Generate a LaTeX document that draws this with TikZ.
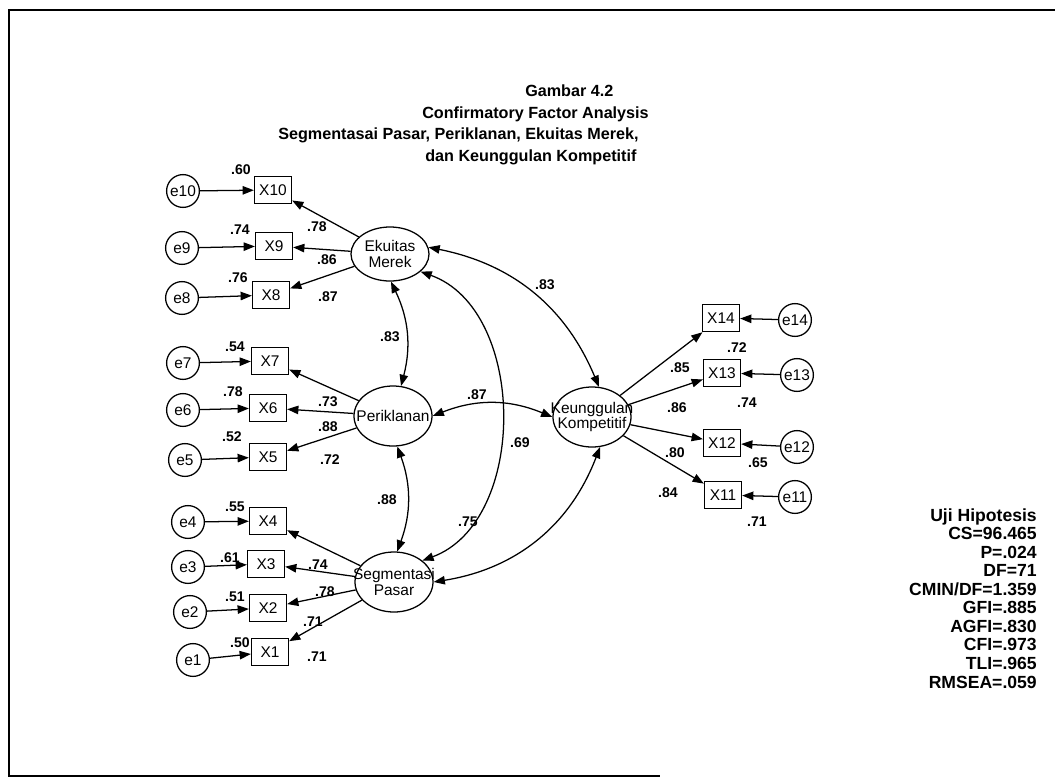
\documentclass[tikz,border=0pt]{standalone}
\usepackage{fontspec}
\setmainfont{Liberation Sans}
\usepackage{xcolor}
\usepackage{tikz}
\usetikzlibrary{shapes.geometric, arrows.meta, positioning}
\newcommand{\zw}[1]{\makebox[0pt]{#1}}
\tikzset{
    myarrow/.style={-{Triangle[length=8pt,width=6pt]}, line width=0.9pt},
    covarrow/.style={{Triangle[length=8pt,width=6pt]}-{Triangle[length=8pt,width=6pt]}, line width=0.9pt},
    box/.style={draw, rectangle, line width=0.9pt, font=\fontsize{11}{12}\selectfont, inner sep=1pt, minimum width=0.925cm, minimum height=0.68cm, align=center},
    err/.style={draw, circle, line width=0.9pt, font=\fontsize{11}{12}\selectfont, inner sep=0pt, minimum size=0.82cm},
    latent/.style={draw, ellipse, line width=0.9pt, font=\fontsize{11}{11}\selectfont, inner sep=0pt, minimum width=1.95cm, minimum height=1.5cm, align=center},
    val/.style={font=\bfseries\fontsize{10}{11}\selectfont, inner sep=0pt},
    ttl/.style={font=\bfseries\fontsize{11.5}{13}\selectfont, inner sep=0pt, anchor=west, text height=8.5pt, text depth=2.5pt}
}

\begin{document}
\begin{tikzpicture}[x=0.025cm, y=0.025cm]
    \useasboundingbox (0,0) rectangle (1055,-778);
    \draw [line width=1.2pt] (1055,-10) -- (9,-10) -- (9,-776) -- (660,-776);

    % title
    \node (t1) [ttl] at (525,-92) {Gambar 4.2};
    \node (t2) [ttl] at (422,-114) {Confirmatory Factor Analysis};
    \node (t3) [ttl] at (278,-135) {Segmentasai Pasar, Periklanan, Ekuitas Merek,};
    \node (t4) [ttl] at (425,-157) {dan Keunggulan Kompetitif};

    % latent variables
    \node (ek) [latent, minimum height=1.35cm] at (390,-254) {\zw{Ekuitas}\\\zw{Merek}};
    \node (per) [latent] at (393,-416) {\zw{Periklanan}};
    \node (seg) [latent] at (394,-582) {\zw{Segmentasi}\\\zw{Pasar}};
    \node (keu) [latent] at (592,-417) {\zw{Keunggulan}\\\zw{Kompetitif}};

    % indicators, left
    \node (x10) [box] at (273,-190) {X10};
    \node (x9) [box] at (274,-246) {X9};
    \node (x8) [box] at (271,-295) {X8};
    \node (x7) [box] at (270,-361) {X7};
    \node (x6) [box] at (268,-408) {X6};
    \node (x5) [box] at (268,-457) {X5};
    \node (x4) [box] at (268,-521) {X4};
    \node (x3) [box] at (266,-564) {X3};
    \node (x2) [box] at (268,-608) {X2};
    \node (x1) [box] at (270,-652) {X1};

    % indicators, right
    \node (x14) [box] at (721,-318) {X14};
    \node (x13) [box] at (722,-373) {X13};
    \node (x12) [box] at (722,-443) {X12};
    \node (x11) [box] at (723,-495) {X11};

    % errors
    \node (e10) [err] at (183,-191) {e10};
    \node (e9) [err] at (182,-248) {e9};
    \node (e8) [err] at (182,-298) {e8};
    \node (e7) [err] at (183,-363) {e7};
    \node (e6) [err] at (183,-410) {e6};
    \node (e5) [err] at (185,-460) {e5};
    \node (e4) [err] at (188,-522) {e4};
    \node (e3) [err] at (188,-567) {e3};
    \node (e2) [err] at (190,-612) {e2};
    \node (e1) [err] at (193,-660) {e1};
    \node (e14) [err] at (795,-320) {e14};
    \node (e13) [err] at (797,-375) {e13};
    \node (e12) [err] at (797,-447) {e12};
    \node (e11) [err] at (795,-497) {e11};

    % paths
    \draw [myarrow] (e10) -- (x10);
    \draw [myarrow] (e9) -- (x9);
    \draw [myarrow] (e8) -- (x8);
    \draw [myarrow] (e7) -- (x7);
    \draw [myarrow] (e6) -- (x6);
    \draw [myarrow] (e5) -- (x5);
    \draw [myarrow] (e4) -- (x4);
    \draw [myarrow] (e3) -- (x3);
    \draw [myarrow] (e2) -- (x2);
    \draw [myarrow] (e1) -- (x1);
    \draw [myarrow] (e14) -- (x14);
    \draw [myarrow] (e13) -- (x13);
    \draw [myarrow] (e12) -- (x12);
    \draw [myarrow] (e11) -- (x11);
    \draw [myarrow] (ek) -- (x10);
    \draw [myarrow] (ek) -- (x9);
    \draw [myarrow] (ek) -- (x8);
    \draw [myarrow] (per) -- (x7);
    \draw [myarrow] (per) -- (x6);
    \draw [myarrow] (per) -- (x5);
    \draw [myarrow] (seg) -- (x4);
    \draw [myarrow] (seg) -- (x3);
    \draw [myarrow] (seg) -- (x2);
    \draw [myarrow] (seg) -- (x1);
    \draw [myarrow] (keu) -- (x14);
    \draw [myarrow] (keu) -- (x13);
    \draw [myarrow] (keu) -- (x12);
    \draw [myarrow] (keu) -- (x11);

    % covariances
    \draw [covarrow] (ek.-88) to[bend left=20] (per.75);
    \draw [covarrow] (per.-82) to[bend left=20] (seg.84);
    \draw [covarrow] (ek.-30) to[bend left=70] (seg.37);
    \draw [covarrow] (ek.10) to[bend left=28] (keu.77);
    \draw [covarrow] (per.east) to[bend left=22] (keu.west);
    \draw [covarrow] (seg.0) to[bend right=30] (keu.-75);

    % squared multiple correlations
    \node (r10) [val] at (241,-170) {.60};
    \node (r9) [val] at (240,-230) {.74};
    \node (r8) [val] at (238,-278) {.76};
    \node (r7) [val] at (235,-347) {.54};
    \node (r6) [val] at (233,-392) {.78};
    \node (r5) [val] at (232,-437) {.52};
    \node (r4) [val] at (235,-507) {.55};
    \node (r3) [val] at (230,-558) {.61};
    \node (r2) [val] at (235,-597) {.51};
    \node (r1) [val] at (240,-643) {.50};
    \node (r14) [val] at (737,-348) {.72};
    \node (r13) [val] at (747,-403) {.74};
    \node (r12) [val] at (758,-463) {.65};
    \node (r11) [val] at (757,-522) {.71};

    % loadings
    \node (l10) [val] at (317,-227) {.78};
    \node (l9) [val] at (327,-260) {.86};
    \node (l8) [val] at (328,-297) {.87};
    \node (l7) [val] at (328,-402) {.73};
    \node (l6) [val] at (328,-427) {.88};
    \node (l5) [val] at (330,-460) {.72};
    \node (l4) [val] at (318,-565) {.74};
    \node (l3) [val] at (325,-592) {.78};
    \node (l2) [val] at (313,-622) {.71};
    \node (l1) [val] at (317,-657) {.71};
    \node (l14) [val] at (680,-368) {.85};
    \node (l13) [val] at (677,-408) {.86};
    \node (l12) [val] at (675,-453) {.80};
    \node (l11) [val] at (668,-493) {.84};

    % correlations
    \node (c1) [val] at (545,-285) {.83};
    \node (c2) [val] at (390,-337) {.83};
    \node (c3) [val] at (477,-395) {.87};
    \node (c4) [val] at (520,-443) {.69};
    \node (c5) [val] at (387,-500) {.88};
    \node (c6) [val] at (468,-522) {.75};

    % fit
    \node (uji) [anchor=north east, align=right, inner sep=0pt, font=\bfseries\fontsize{12.5}{13.2}\selectfont] at (1037,-508) {Uji Hipotesis\\CS=96.465\\P=.024\\DF=71\\CMIN/DF=1.359\\GFI=.885\\AGFI=.830\\CFI=.973\\TLI=.965\\RMSEA=.059};
\end{tikzpicture}
\end{document}
